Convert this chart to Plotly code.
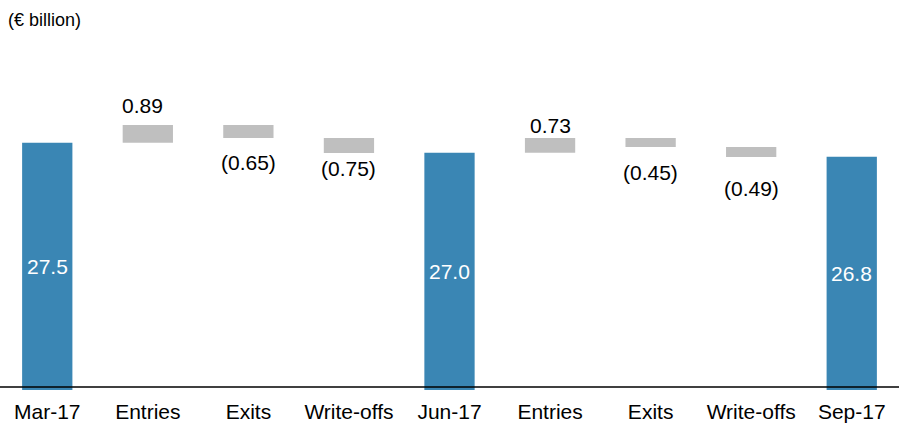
import plotly.graph_objects as go

categories = ["Mar-17", "Entries", "Exits", "Write-offs", "Jun-17", "Entries ", "Exits ", "Write-offs ", "Sep-17"]
values = [27.5, 0.89, -0.65, -0.75, 27.0, 0.73, -0.45, -0.49, 26.8]
measures = ["absolute", "relative", "relative", "relative", "absolute", "relative", "relative", "relative", "absolute"]
tick_labels = ["Mar-17", "Entries", "Exits", "Write-offs", "Jun-17", "Entries", "Exits", "Write-offs", "Sep-17"]
unit_label = "(€ billion)"

# label fine-tuning (pixels), style only
label_dx = [0, -5, 0, 0, 0, 0, 0, 0, 0]
label_dy = [0, 0, 2, 11, 0, -7, 1, -5, 0]

BLUE = "#3a86b4"
GREY = "#bfbfbf"
FONT = "Liberation Sans, Arial, sans-serif"

W, H = 899, 424
M_T, M_B = 60, 34
plot_h = H - M_T - M_B
y_min = 15.135
y_max = y_min + plot_h / 20.0

fig = go.Figure(go.Waterfall(
    x=categories,
    y=values,
    measure=measures,
    width=0.5,
    connector=dict(visible=False),
    increasing=dict(marker=dict(color=GREY, line=dict(width=0))),
    decreasing=dict(marker=dict(color=GREY, line=dict(width=0))),
    totals=dict(marker=dict(color=BLUE, line=dict(width=0))),
    textinfo="none",
    hoverinfo="skip",
))

# labels computed from data
level = 0.0
annotations = []
for i, (cat, v, m) in enumerate(zip(categories, values, measures)):
    if m == "absolute":
        level = v
        mid = (max(y_min, 0) + v) / 2
        annotations.append(dict(x=cat, y=mid, text=f"{v:.1f}", showarrow=False,
                                font=dict(color="white", size=21, family=FONT),
                                xanchor="center", yanchor="middle",
                                xshift=label_dx[i], yshift=label_dy[i]))
    else:
        level = level + v
        if v >= 0:
            annotations.append(dict(x=cat, y=level, text=f"{v:.2f}", showarrow=False,
                                    font=dict(color="black", size=21, family=FONT),
                                    xanchor="center", yanchor="bottom",
                                    xshift=label_dx[i], yshift=6 + label_dy[i]))
        else:
            annotations.append(dict(x=cat, y=level, text=f"({abs(v):.2f})", showarrow=False,
                                    font=dict(color="black", size=21, family=FONT),
                                    xanchor="center", yanchor="top",
                                    xshift=label_dx[i], yshift=-13 + label_dy[i]))

annotations.append(dict(xref="paper", yref="paper", x=0, y=1 + 40 / plot_h, xshift=6,
                        text=unit_label, showarrow=False, xanchor="left", yanchor="middle",
                        font=dict(color="black", size=18, family=FONT)))

fig.update_layout(
    width=W, height=H,
    margin=dict(l=0, r=0, t=M_T, b=M_B, pad=0),
    plot_bgcolor="white", paper_bgcolor="white",
    showlegend=False,
    annotations=annotations,
    font=dict(family=FONT, color="black", size=21),
    shapes=[dict(type="line", xref="paper", yref="paper", x0=0, x1=1,
                 y0=3 / plot_h, y1=3 / plot_h, line=dict(color="black", width=1.3))],
)
fig.update_xaxes(
    range=[-0.47, 8.47],
    tickmode="array", tickvals=categories, ticktext=tick_labels,
    showgrid=False, zeroline=False, showline=False, ticks="",
    tickfont=dict(size=21, family=FONT, color="black"),
    ticklabelstandoff=7,
)
fig.update_yaxes(range=[y_min, y_max], visible=False, showgrid=False, zeroline=False)

fig.write_html("out.html", config={"displayModeBar": False},
               post_script="document.body.style.margin='0';document.body.style.overflow='hidden';")
